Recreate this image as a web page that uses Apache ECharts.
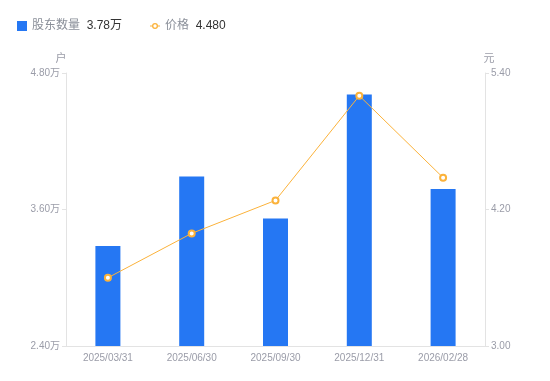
<!DOCTYPE html>
<html><head><meta charset="utf-8">
<script src="https://cdn.jsdelivr.net/npm/echarts@6/dist/echarts.min.js"></script>
<style>html,body{margin:0;padding:0;background:#fff}#c{width:550px;height:381px}</style>
</head><body><div id="c"></div>
<script>
var categories = ['2025/03/31','2025/06/30','2025/09/30','2025/12/31','2026/02/28'];
var holders = [3.28, 3.89, 3.52, 4.61, 3.78];
var prices = [3.60, 3.99, 4.28, 5.20, 4.48];
var leftTicks = {min: 2.4, max: 4.8, interval: 1.2};
var rightTicks = {min: 3.0, max: 5.4, interval: 1.2};
var legendValues = {'股东数量': '3.78万', '价格': '4.480'};

var chart = echarts.init(document.getElementById('c'));
var font = '"Liberation Sans","Noto Sans CJK SC",sans-serif';
var lineIcon = 'path://M0,2.5L2.2,2.5L2.2,3.5L0,3.5Z M7.8,2.5L10,2.5L10,3.5L7.8,3.5Z M5,0A3,3 0 1,1 5,6A3,3 0 1,1 5,0Z M5,1.3A1.7,1.7 0 1,0 5,4.7A1.7,1.7 0 1,0 5,1.3Z';
chart.setOption({
  animation: false,
  textStyle: {fontFamily: font},
  legend: {
    left: 12, top: 15, itemWidth: 10, itemHeight: 10, itemGap: 28,
    symbolKeepAspect: true,
    data: [
      {name: '股东数量', icon: 'rect'},
      {name: '价格', icon: lineIcon, itemStyle: {color: '#fbb23a', borderWidth: 0}}
    ],
    formatter: function (n) { return '{a|' + n + '}  {b|' + legendValues[n] + '}'; },
    textStyle: {
      fontFamily: font,
      rich: {
        a: {color: '#8a8f99', fontSize: 12, fontFamily: font},
        b: {color: '#333', fontSize: 12, fontFamily: font}
      }
    }
  },
  grid: {left: 66, right: 65, top: 73, bottom: 35},
  xAxis: {
    type: 'category', data: categories,
    axisLine: {lineStyle: {color: '#e3e3e3'}},
    axisTick: {show: false},
    axisLabel: {color: '#9a9ca8', fontSize: 10, margin: 7}
  },
  yAxis: [{
    type: 'value', name: '户', min: leftTicks.min, max: leftTicks.max, interval: leftTicks.interval,
    nameTextStyle: {color: '#9a9ca8', fontSize: 11, padding: [0, 10, 0, 0]}, nameGap: 9,
    axisLine: {show: true, lineStyle: {color: '#e3e3e3'}},
    axisTick: {show: true, length: 4, lineStyle: {color: '#e3e3e3'}},
    splitLine: {show: false},
    axisLabel: {color: '#9a9ca8', fontSize: 10, margin: 6, formatter: function (v) { return v.toFixed(2) + '万'; }}
  }, {
    type: 'value', name: '元', min: rightTicks.min, max: rightTicks.max, interval: rightTicks.interval,
    nameTextStyle: {color: '#9a9ca8', fontSize: 11, padding: [0, 0, 0, 8]}, nameGap: 9,
    axisLine: {show: true, lineStyle: {color: '#e3e3e3'}},
    axisTick: {show: true, length: 4, lineStyle: {color: '#e3e3e3'}},
    splitLine: {show: false},
    axisLabel: {color: '#9a9ca8', fontSize: 10, margin: 6, formatter: function (v) { return v.toFixed(2); }}
  }],
  series: [{
    name: '股东数量', type: 'bar', data: holders, barWidth: 25, yAxisIndex: 0,
    itemStyle: {color: '#2577f3'}
  }, {
    name: '价格', type: 'line', data: prices, yAxisIndex: 1,
    symbol: 'emptyCircle', symbolSize: 6,
    lineStyle: {color: '#fbb23a', width: 1},
    itemStyle: {color: '#fbb23a', borderWidth: 2}
  }]
});
</script></body></html>
